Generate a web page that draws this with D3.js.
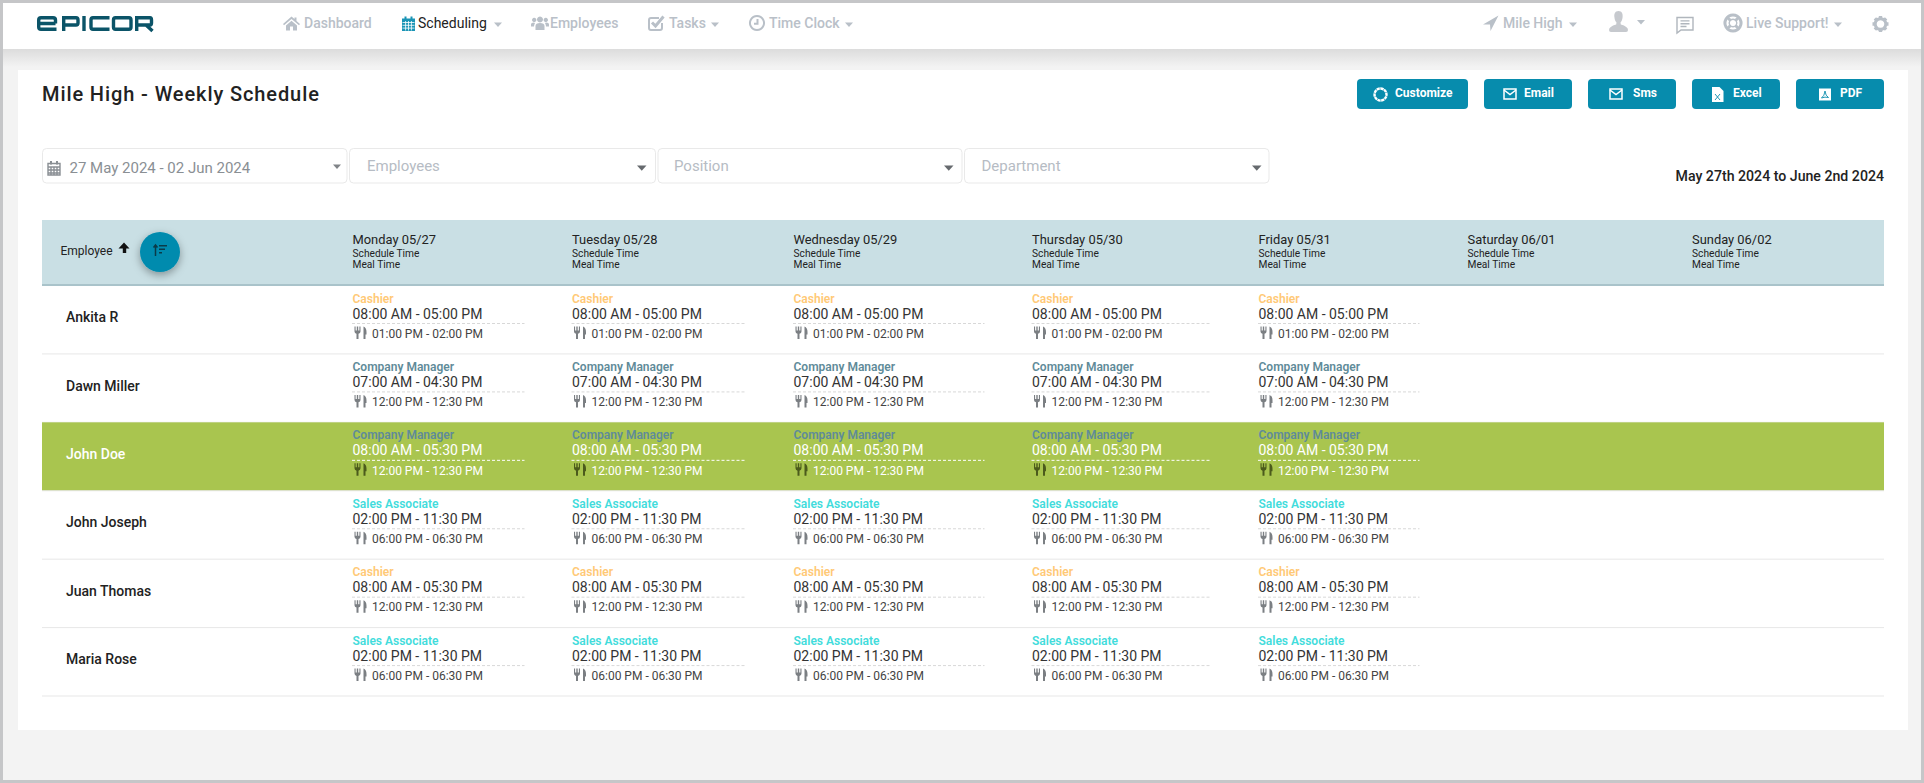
<!DOCTYPE html>
<html><head><meta charset="utf-8"><title>Mile High - Weekly Schedule</title>
<script src="https://cdn.jsdelivr.net/npm/d3@7"></script>
<style>html,body{margin:0;padding:0;background:#f3f3f3;overflow:hidden}svg{display:block}text{font-family:Roboto,sans-serif}</style>
</head><body><svg id="c" width="1924" height="783"></svg>
<script>
// ---------- data ----------
const employees = ["Ankita R","Dawn Miller","John Doe","John Joseph","Juan Thomas","Maria Rose"];
const roles = ["Cashier","Company Manager","Company Manager","Sales Associate","Cashier","Sales Associate"];
const shiftTimes = ["08:00 AM - 05:00 PM","07:00 AM - 04:30 PM","08:00 AM - 05:30 PM","02:00 PM - 11:30 PM","08:00 AM - 05:30 PM","02:00 PM - 11:30 PM"];
const mealTimes = ["01:00 PM - 02:00 PM","12:00 PM - 12:30 PM","12:00 PM - 12:30 PM","06:00 PM - 06:30 PM","12:00 PM - 12:30 PM","06:00 PM - 06:30 PM"];
const days = ["Monday 05/27","Tuesday 05/28","Wednesday 05/29","Thursday 05/30","Friday 05/31","Saturday 06/01","Sunday 06/02"];
const scheduledDays = ["Monday 05/27","Tuesday 05/28","Wednesday 05/29","Thursday 05/30","Friday 05/31"];
const navLeft = ["Dashboard","Scheduling","Employees","Tasks","Time Clock"];
const navRight = ["Mile High","Live Support!"];
const buttons = ["Customize","Email","Sms","Excel","PDF"];
const filters = ["27 May 2024 - 02 Jun 2024","Employees","Position","Department"];
const pageTitle = "Mile High - Weekly Schedule";
const rangeLabel = "May 27th 2024 to June 2nd 2024";
const highlighted = "John Doe";

// ---------- scales ----------
const colX = d3.scaleOrdinal(days,[352.5,572,793.5,1032,1258.5,1467.5,1692]);
const colRuleW = d3.scaleOrdinal(days,[172,174,191,179,161,0,0]);
const rowY = d3.scaleBand(employees,[285.5,696]);
const roleColor = d3.scaleOrdinal(["Cashier","Company Manager","Sales Associate"],["#ffc976","#5f8b99","#42dcdc"]);
const navX = d3.scaleOrdinal(navLeft,[304,418,550,669,769]);
const navIconX = d3.scaleOrdinal(navLeft,[283,402,531,648,749]);
const btnX = d3.scaleOrdinal(buttons,[1357,1484,1588,1692,1796]);
const btnW = d3.scaleOrdinal(buttons,[111,88,88,88,88]);
const btnTextX = d3.scaleOrdinal(buttons,[1395,1524,1633,1733,1840]);
const btnIconX = d3.scaleOrdinal(buttons,[1373,1503,1609,1712,1819]);
const filterX = d3.scaleOrdinal(filters,[42,349,657.5,964]);
const filterW = d3.scaleOrdinal(filters,[304.5,306,304,304.5]);
const filterTextX = d3.scaleOrdinal(filters,[69.5,367,674,981.5]);

const svg = d3.select("#c");
const defs = svg.append("defs");
const g1 = defs.append("linearGradient").attr("id","hs").attr("x1",0).attr("x2",0).attr("y1",0).attr("y2",1);
g1.append("stop").attr("offset",0).attr("stop-color","#dcdcdc");
g1.append("stop").attr("offset",1).attr("stop-color","#f3f3f3");
const f = defs.append("filter").attr("id","fab").attr("x","-50%").attr("y","-50%").attr("width","200%").attr("height","200%");
f.append("feDropShadow").attr("dx",0).attr("dy",3).attr("stdDeviation",4).attr("flood-color","#000").attr("flood-opacity",.35);

const rect=(x,y,w,h,fill,rx)=>svg.append("rect").attr("x",x).attr("y",y).attr("width",w).attr("height",h).attr("fill",fill).attr("rx",rx||0);
const text=(s,x,y,size,fill,weight,anchor)=>svg.append("text").attr("x",x).attr("y",y).attr("font-size",size).attr("fill",fill).attr("font-weight",weight||400).attr("text-anchor",anchor||"start").text(s);

// icons: path sets in a 16-unit box; [d, mode] mode f=fill s=stroke
const icons={
 home:[["M8.5 0.5 L0 8 L1 9.3 L8.5 2.9 L16 9.3 L17 8 L13.5 4.9 V1.5 H11.5 V3.1 Z M3 9.6 L8.5 4.8 L14 9.6 V14.5 H10 V10.5 H7 V14.5 H3 Z","f"]],
 cal:[["M0 2.5 H13 V15 H0 Z M2.5 0.5 h2 v3 h-2 Z M8.5 0.5 h2 v3 h-2 Z","f"],["M0.5 6.5 H12.5 M0.5 9.3 H12.5 M0.5 12.1 H12.5 M3.6 5 V14.5 M6.5 5 V14.5 M9.4 5 V14.5","w"]],
 calo:[["M1 3.5 H13 V15 H1 Z M1 7 H13 M1 10 H13 M1 13 H13 M4 7 V15 M7 7 V15 M10 7 V15","s"],["M3 1 h2 v3.4 h-2 Z M9 1 h2 v3.4 h-2 Z","f"]],
 users:[["M9 0.5 a3 3 0 1 1 -0.01 0 Z M3.2 1.8 a2.2 2.2 0 1 1 -0.01 0 Z M14.8 1.8 a2.2 2.2 0 1 1 -0.01 0 Z M4.5 14 V10 Q4.5 7 9 7 Q13.5 7 13.5 10 V14 Z M0 10.5 V8.5 Q0 6.4 3 6.4 L4 7.6 Q3 8.6 3 10.5 Z M18 10.5 V8.5 Q18 6.4 15 6.4 L14 7.6 Q15 8.6 15 10.5 Z","f"]],
 check:[["M14 8 V13 Q14 15 12 15 H3 Q1 15 1 13 V5 Q1 3 3 3 H11","s2"],["M4 7.5 L7.5 11 L15.5 1.5","s3"]],
 clock:[["M8 1 a7 7 0 1 1 -0.01 0 Z","s2"],["M8.5 4 V8.7 H5","s2"]],
 loc:[["M15.5 0 L0 9 L7 9 L7.5 15.5 Z","f"]],
 user:[["M9.5 0 C13 0 14 3 13.6 6 C13.4 8.5 12.7 10.5 11.5 11.5 L11.8 13.5 Q19 15.5 19 19 Q19 21 17 21 H2 Q0 21 0 19 Q0 15.5 7.2 13.5 L7.5 11.5 C6.3 10.5 5.6 8.5 5.4 6 C5 3 6 0 9.5 0 Z","f"]],
 comment:[["M1 1 H17 V13.5 H5 L1 16.5 Z","s"],["M4.5 4.4 H13.5 M4.5 7.2 H13.5 M4.5 10 H10.5","s"]],
 buoy:[["M10 2 a8 8 0 1 1 -0.01 0 Z","s3"],["M10 6.2 a3.8 3.8 0 1 1 -0.01 0 Z","s"],["M4.5 4.5 L7.5 7.5 M15.5 4.5 L12.5 7.5 M4.5 15.5 L7.5 12.5 M15.5 15.5 L12.5 12.5","s3"]],
 gear:[["M8.5 3.2 a5.3 5.3 0 1 1 -0.01 0 Z","s3"],["M8.5 0.5 V16.5 M0.5 8.5 H16.5 M2.9 2.9 L14.1 14.1 M14.1 2.9 L2.9 14.1","sg"],["M8.5 6 a2.5 2.5 0 1 1 -0.01 0 Z","wf"]],
 mail:[["M1 2 H13 V12 H1 Z","sw"],["M1 3 L7 7.5 L13 3","sw"]],
 file:[["M0 0 H7.5 L11.5 4 V15 H0 Z","wf"],["M3 7 L8 13 M8 7 L3 13","t"]],
 pdf:[["M0 0.5 H12 V12.5 H0 Z","wf"],["M2.5 10 Q5.5 8 6 3 Q6.5 8 9.5 9.5 Q6 8.5 2.5 10 Z","t"]],
 custom:[["M7.5 1.5 a6 6 0 1 1 -0.01 0 Z","swc"]],
 knife:[["M0.5 0 V5 Q0.5 7 2.5 7.3 V12.5 H4.5 V7.3 Q6.5 7 6.5 5 V0 H5.4 V4 H4.2 V0 H2.8 V4 H1.6 V0 Z M9.5 0 Q12.5 1 12.5 5.5 V8 H11.5 V12.5 H9.5 Z","f"]]
};
function icon(name,x,y,color){
 const g=svg.append("g").attr("transform",`translate(${x},${y})`);
 icons[name].forEach(([d,m])=>{
  const p=g.append("path").attr("d",d);
  if(m==="f")p.attr("fill",color);
  else if(m==="wf")p.attr("fill","#fff");
  else if(m==="w")p.attr("fill","none").attr("stroke","#fff").attr("stroke-width",.8);
  else if(m==="t")p.attr("fill","none").attr("stroke","#0a8cad").attr("stroke-width",.9);
  else if(m==="s")p.attr("fill","none").attr("stroke",color).attr("stroke-width",1.4);
  else if(m==="s2")p.attr("fill","none").attr("stroke",color).attr("stroke-width",2);
  else if(m==="s3")p.attr("fill","none").attr("stroke",color).attr("stroke-width",3);
  else if(m==="sw")p.attr("fill","none").attr("stroke","#fff").attr("stroke-width",1.5);
  else if(m==="swc")p.attr("fill","none").attr("stroke","#fff").attr("stroke-width",2.4).attr("stroke-dasharray","3.2 .5");
  else if(m==="sg")p.attr("fill","none").attr("stroke",color).attr("stroke-width",3.4).attr("stroke-dasharray","2.6 10.8");
 });
 return g;
}
const caret=(x,y,w,color)=>svg.append("path").attr("d",`M${x} ${y} h${w} l${-w/2} ${w*.55} Z`).attr("fill",color);

// ---------- page frame ----------
rect(0,0,1924,783,"#c5c6c8");
rect(3,3,1918,777,"#f3f3f3");
rect(3,49,1918,18,"url(#hs)");
rect(3,3,1918,46,"#fff");
rect(18,70,1890,660,"#fff");

// logo
const logo="#0b5468";
svg.append("path").attr("fill","none").attr("stroke",logo).attr("stroke-width",3.4)
 .attr("d","M55.5 23.5 H38.7 V20 Q38.7 17.7 41 17.7 H53 Q55.5 17.7 55.5 20 V23.5 M38.7 23.5 V27 Q38.7 29.3 41 29.3 H56.5"
 +" M63.7 31 V17.7 H76 Q78 17.7 78 20 V23 Q78 25 76 25 H63.7 M84 16 V31"
 +" M109.5 17.7 H93 Q91 17.7 91 20 V27 Q91 29.3 93 29.3 H109.5"
 +" M115.5 17.7 H129 Q131 17.7 131 20 V27 Q131 29.3 129 29.3 H115.5 Q113.5 29.3 113.5 27 V20 Q113.5 17.7 115.5 17.7 Z"
 +" M136.7 31 V17.7 H150 Q151.5 17.7 151.5 20 V23 Q151.5 25 150 25 H136.7 M146 25 L152.5 31");

// nav
const navGray="#b9c0c8";
svg.append("g").selectAll("text").data(navLeft).join("text").attr("x",d=>navX(d)).attr("y",28).attr("font-size",14)
 .attr("font-weight",d=>d==="Scheduling"?400:500).attr("fill",d=>d==="Scheduling"?"#222":navGray).text(d=>d);
icon("home",navIconX("Dashboard"),16,navGray);
icon("cal",navIconX("Scheduling"),16,"#1a94b5");
icon("users",navIconX("Employees"),16,navGray);
icon("check",navIconX("Tasks"),15,navGray);
icon("clock",navIconX("Time Clock"),15,navGray);
caret(494,22.5,8,navGray);caret(711,22.5,8,navGray);caret(845,22.5,8,navGray);
text(navRight[0],1503,28,14,navGray,500);
text(navRight[1],1746,28,14,navGray,500);
icon("loc",1483,15.5,navGray);caret(1569,22.5,8,navGray);
icon("user",1609,11,"#c6c9ce");caret(1637,20,8,navGray);
icon("comment",1676,16.5,"#b0b6bd");
icon("buoy",1723,13,navGray);caret(1834,22.5,8,navGray);
icon("gear",1872,15.5,navGray);

// title + buttons
text(pageTitle,42,101,20,"#222",500).attr("letter-spacing",".9px");
svg.append("g").selectAll("rect").data(buttons).join("rect").attr("x",d=>btnX(d)).attr("y",79).attr("width",d=>btnW(d)).attr("height",30).attr("rx",4).attr("fill","#078cad");
svg.append("g").selectAll("text").data(buttons).join("text").attr("x",d=>btnTextX(d)).attr("y",97).attr("font-size",12).attr("font-weight",700).attr("fill","#fff").text(d=>d);
icon("custom",btnIconX("Customize"),87,"#fff");
icon("mail",btnIconX("Email"),87,"#fff");
icon("mail",btnIconX("Sms"),87,"#fff");
icon("file",btnIconX("Excel"),87,"#fff");
icon("pdf",btnIconX("PDF"),88,"#fff");

// filters
svg.append("g").selectAll("rect").data(filters).join("rect").attr("x",d=>filterX(d)+.5).attr("y",148.5).attr("width",d=>filterW(d)).attr("height",34.5).attr("rx",4)
 .attr("fill","#fff").attr("stroke","#e9e9e9");
svg.append("g").selectAll("text").data(filters).join("text").attr("x",d=>filterTextX(d)).attr("y",(d,i)=>i?170.5:173).attr("font-size",15)
 .attr("fill",(d,i)=>i?"#b6bcc4":"#8a8f94").text(d=>d);
icon("calo",47,160,"#8a8f94");
caret(333,164.5,8,"#808488");caret(637,165.5,9.5,"#666a6e");caret(944,165.5,9.5,"#666a6e");caret(1252,165.5,9.5,"#666a6e");
text(rangeLabel,1884,181,14.15,"#222",500,"end");

// table header
rect(42,220,1842,66,"#c9dfe4");
rect(42,284,1842,2,"#a9c3ca");
text("Employee",60.5,255,12,"#222",400);
svg.append("path").attr("d","M124 242.5 L129.5 248.5 H126.2 V253 H122.8 V248.5 H118.5 Z").attr("fill","#111");
svg.append("circle").attr("cx",160).attr("cy",252).attr("r",20).attr("fill","#058bae").attr("filter","url(#fab)");
svg.append("path").attr("d","M155.5 245 V256 M153.5 247.5 L155.5 245 L157.5 247.5").attr("fill","none").attr("stroke","#0b3b48").attr("stroke-width",1.5);
svg.append("path").attr("d","M159 245.8 H167 M159 249.3 H165 M159 252.8 H162").attr("fill","none").attr("stroke","#0b3b48").attr("stroke-width",1.5);
const hdr=svg.append("g").selectAll("g").data(days).join("g").attr("transform",d=>`translate(${colX(d)},0)`);
hdr.append("text").attr("y",244).attr("font-size",12.9).attr("fill","#222").text(d=>d);
hdr.append("text").attr("y",256.5).attr("font-size",10.2).attr("fill","#222").text("Schedule Time");
hdr.append("text").attr("y",268).attr("font-size",10.2).attr("fill","#222").text("Meal Time");

// rows
const rows=svg.append("g").selectAll("g").data(employees).join("g").attr("transform",d=>`translate(0,${rowY(d)})`);
rows.filter(d=>d===highlighted).append("rect").attr("x",42).attr("y",0).attr("width",1842).attr("height",rowY.bandwidth()).attr("fill","#a9c54f");
rows.append("rect").attr("x",42).attr("y",rowY.bandwidth()-.5).attr("width",1842).attr("height",1).attr("fill","#e8e8e8");
rows.append("text").attr("x",66).attr("y",36.7).attr("font-size",14).attr("font-weight",500).attr("fill",d=>d===highlighted?"#fff":"#222").text(d=>d);

employees.forEach((e,i)=>{
 const hi=e===highlighted, y0=rowY(e);
 const cells=svg.append("g").selectAll("g").data(scheduledDays).join("g").attr("transform",d=>`translate(${colX(d)},${y0})`);
 cells.append("text").attr("y",17).attr("font-size",12).attr("font-weight",600).attr("fill",roleColor(roles[i])).text(roles[i]);
 cells.append("text").attr("y",33).attr("font-size",14).attr("fill",hi?"#fff":"#333").text(shiftTimes[i]);
 cells.append("line").attr("x1",-.5).attr("x2",d=>colRuleW(d)).attr("y1",38).attr("y2",38).attr("stroke",hi?"#fff":"#d8d8d8").attr("stroke-width",1).attr("stroke-dasharray","3 2");
 cells.append("text").attr("x",19.5).attr("y",52.2).attr("font-size",12).attr("fill",hi?"#fff":"#444").text(mealTimes[i]);
 cells.each(function(){
  const g=d3.select(this).append("g").attr("transform","translate(1.5,41)");
  icons.knife.forEach(([d])=>g.append("path").attr("d",d).attr("fill",hi?"#4b5a1c":"#7b7f83"));
 });
});
</script></body></html>
